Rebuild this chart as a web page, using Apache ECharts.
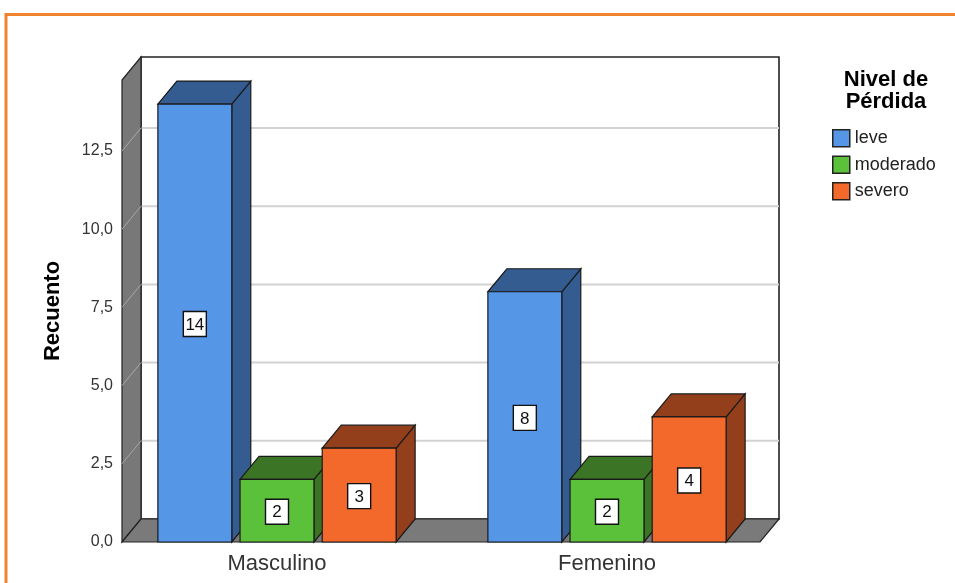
<!DOCTYPE html>
<html>
<head>
<meta charset="utf-8">
<script src="https://cdn.jsdelivr.net/npm/echarts@6/dist/echarts.min.js"></script>
<style>html,body{margin:0;padding:0;background:#fff}#c{width:955px;height:583px}</style>
</head>
<body>
<div id="c"></div>
<script>
// ---- data ----
const categories = ['Masculino', 'Femenino'];
const seriesNames = ['leve', 'moderado', 'severo'];
const leve = [14, 8];
const moderado = [2, 2];
const severo = [3, 4];
const yTicks = [0, 2.5, 5, 7.5, 10, 12.5];
const legendTitle = 'Nivel de\nPérdida';
const yTitle = 'Recuento';

// ---- style ----
const FONT = 'Liberation Sans';
const frontColors = ['#5596E6', '#5CC13A', '#F2692B'];
const darkColors = ['#345C91', '#3A7424', '#943F1B'];
const DX = 19, DY = -23;

function wallRender(params, api) {
  const cs = params.coordSys;
  const xl = cs.x + 10, xr = cs.x + cs.width - 12;
  const yb = api.coord([0, 0])[1];
  const yt = cs.y;
  const ch = [];
  ch.push({type: 'polygon', shape: {points: [[xl + DX, yt + DY], [xr + DX, yt + DY], [xr + DX, yb + DY], [xl + DX, yb + DY]]},
    style: {fill: '#ffffff', stroke: '#222', lineWidth: 1.6}});
  yTicks.forEach(v => {
    if (v === 0) return;
    const y = api.coord([0, v])[1];
    ch.push({type: 'line', shape: {x1: xl + DX, y1: y + DY, x2: xr + DX, y2: y + DY}, style: {stroke: '#d2d2d2', lineWidth: 2}});
  });
  ch.push({type: 'polygon', shape: {points: [[xl, yb], [xl, yt], [xl + DX, yt + DY], [xl + DX, yb + DY]]},
    style: {fill: '#787878', stroke: '#222', lineWidth: 1.2}});
  yTicks.forEach(v => {
    if (v === 0) return;
    const y = api.coord([0, v])[1];
    ch.push({type: 'line', shape: {x1: xl, y1: y, x2: xl + DX, y2: y + DY}, style: {stroke: '#a9a9a9', lineWidth: 1}});
  });
  ch.push({type: 'polygon', shape: {points: [[xl, yb], [xr, yb], [xr + DX, yb + DY], [xl + DX, yb + DY]]},
    style: {fill: '#7a7a7a', stroke: '#222', lineWidth: 1.2}});
  return {type: 'group', children: ch};
}

function makeBarRender(si) {
  return function (params, api) {
    const ci = api.value(0), v = api.value(1);
    const p0 = api.coord([ci, 0]), p1 = api.coord([ci, v]);
    const band = api.size([1, 0])[0];
    const w = band * 0.224, off = (si - 1) * band * 0.249;
    const x0 = p0[0] + off - w / 2, x1 = x0 + w, yb = p0[1], yt = p1[1];
    const cx = (x0 + x1) / 2, cy = (yb + yt) / 2 + 1;
    const st = {stroke: '#1a1a1a', lineWidth: 1.2};
    return {type: 'group', children: [
      {type: 'polygon', shape: {points: [[x1, yb], [x1, yt], [x1 + DX, yt + DY], [x1 + DX, yb + DY]]}, style: Object.assign({fill: darkColors[si]}, st)},
      {type: 'polygon', shape: {points: [[x0, yt], [x1, yt], [x1 + DX, yt + DY], [x0 + DX, yt + DY]]}, style: Object.assign({fill: darkColors[si]}, st)},
      {type: 'rect', shape: {x: x0, y: yt, width: w, height: yb - yt}, style: Object.assign({fill: frontColors[si]}, st)},
      {type: 'rect', shape: {x: cx - 11.5, y: cy - 12.5, width: 23, height: 25}, style: {fill: '#fff', stroke: '#111', lineWidth: 1.4}},
      {type: 'text', x: cx, y: cy + 1, style: {text: String(v), fill: '#111', font: '17px "' + FONT + '"',
        align: 'center', verticalAlign: 'middle', textAlign: 'center', textVerticalAlign: 'middle'}}
    ]};
  };
}

const seriesData = [leve, moderado, severo];
const series = [{
  type: 'custom', name: '_walls', silent: true, clip: false, z: 1,
  renderItem: wallRender, data: [[0, 0]], encode: {x: 0, y: 1}
}];
seriesNames.forEach((n, si) => {
  series.push({
    type: 'custom', name: n, clip: false, z: 2 + si,
    itemStyle: {color: frontColors[si]},
    renderItem: makeBarRender(si),
    data: seriesData[si].map((v, i) => [i, v]),
    encode: {x: 0, y: 1}
  });
});

const chart = echarts.init(document.getElementById('c'), null, {renderer: 'canvas'});
chart.setOption({
  animation: false,
  backgroundColor: '#ffffff',
  grid: {left: 112, right: 183, top: 80, bottom: 41, containLabel: false},
  xAxis: {
    type: 'category', data: categories,
    axisLine: {show: false}, axisTick: {show: false}, splitLine: {show: false},
    axisLabel: {color: '#333', fontSize: 22, fontFamily: FONT, margin: 11}
  },
  yAxis: {
    type: 'value', min: 0, max: 14.77, interval: 2.5, offset: -10,
    axisLine: {show: false}, axisTick: {show: false}, splitLine: {show: false},
    axisLabel: {color: '#333', fontSize: 16, fontFamily: FONT, margin: 9, showMaxLabel: false,
      padding: [6, 0, 0, 0],
      formatter: v => v.toFixed(1).replace('.', ',')},
    name: yTitle, nameLocation: 'middle', nameRotate: 90, nameGap: 58,
    nameTextStyle: {color: '#000', fontSize: 22, fontWeight: 'bold', fontFamily: FONT}
  },
  legend: {
    orient: 'vertical', left: 832, top: 129, padding: 0,
    itemWidth: 17, itemHeight: 17, itemGap: 8,
    textStyle: {color: '#222', fontSize: 18, fontFamily: FONT},
    data: seriesNames.map((n, i) => ({name: n, icon: 'rect',
      itemStyle: {color: frontColors[i], borderColor: '#222', borderWidth: 1.5}}))
  },
  graphic: [
    {type: 'text', x: 886, y: 69, style: {text: legendTitle, font: 'bold 22px "' + FONT + '"', fill: '#000',
      align: 'center', textAlign: 'center', lineHeight: 22}},
    {type: 'line', shape: {x1: 5, y1: 14.5, x2: 955, y2: 14.5}, style: {stroke: '#F0832F', lineWidth: 3}},
    {type: 'line', shape: {x1: 6, y1: 13, x2: 6, y2: 583}, style: {stroke: '#F0832F', lineWidth: 3}}
  ],
  series: series
});
</script>
</body>
</html>
